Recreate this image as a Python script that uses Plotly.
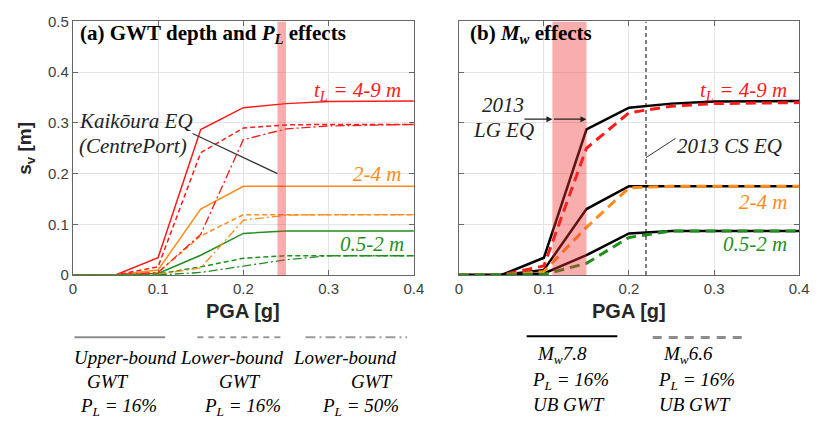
import plotly.graph_objects as go

# ---------------- data ----------------
pga = [0, 0.05, 0.1, 0.15, 0.2, 0.25, 0.3, 0.4]
x_ticks = [0, 0.1, 0.2, 0.3, 0.4]
x_tick_text = ["0", "0.1", "0.2", "0.3", "0.4"]
y_ticks = [0, 0.1, 0.2, 0.3, 0.4, 0.5]
y_tick_text = ["0", "0.1", "0.2", "0.3", "0.4", "0.5"]

# panel (a): GWT depth and PL effects
red_ub16 = [0, 0, 0.034, 0.287, 0.330, 0.338, 0.342, 0.343]
red_lb16 = [0, 0, 0.016, 0.241, 0.290, 0.296, 0.297, 0.297]
red_lb50 = [0, 0, 0.005, 0.080, 0.267, 0.288, 0.294, 0.297]
orange_ub16 = [0, 0, 0.010, 0.130, 0.175, 0.175, 0.175, 0.175]
orange_lb16 = [0, 0, 0.005, 0.077, 0.119, 0.119, 0.119, 0.119]
orange_lb50 = [0, 0, 0.001, 0.014, 0.108, 0.118, 0.119, 0.119]
green_ub16 = [0, 0, 0.003, 0.039, 0.082, 0.087, 0.087, 0.087]
green_lb16 = [0, 0, 0.002, 0.016, 0.033, 0.038, 0.038, 0.038]
green_lb50 = [0, 0, 0.000, 0.005, 0.018, 0.030, 0.038, 0.038]

# panel (b): Mw effects (Mw7.8 = UB GWT, PL 16%)
red_mw78 = red_ub16
orange_mw78 = orange_ub16
green_mw78 = green_ub16
red_mw66 = [0, 0, 0.018, 0.250, 0.320, 0.333, 0.338, 0.340]
orange_mw66 = [0, 0, 0.007, 0.094, 0.172, 0.175, 0.175, 0.175]
green_mw66 = [0, 0, 0.001, 0.023, 0.074, 0.087, 0.087, 0.087]

kaikoura_band = [0.24, 0.25]
lg_band = [0.11, 0.15]
cs_pga = 0.22

# ---------------- style ----------------
W, H = 820, 428
RED, ORANGE, GREEN = "#ff1a1a", "#ff8c1a", "#1f8f1f"
SERIF = "Liberation Serif"
SANS = "Liberation Sans"


def px(v):
    return v / W


def py(v):
    return 1 - v / H


fig = go.Figure()

dash_a = "5px,3px"
dashdot_a = "9px,3px,2px,3px"
for ys, col in [(red_ub16, RED), (orange_ub16, ORANGE), (green_ub16, GREEN)]:
    fig.add_trace(go.Scatter(x=pga, y=ys, mode="lines", xaxis="x", yaxis="y",
                             line=dict(color=col, width=1.5)))
for ys, col in [(red_lb16, RED), (orange_lb16, ORANGE), (green_lb16, GREEN)]:
    fig.add_trace(go.Scatter(x=pga, y=ys, mode="lines", xaxis="x", yaxis="y",
                             line=dict(color=col, width=1.5, dash=dash_a)))
for ys, col in [(red_lb50, RED), (orange_lb50, ORANGE), (green_lb50, GREEN)]:
    fig.add_trace(go.Scatter(x=pga, y=ys, mode="lines", xaxis="x", yaxis="y",
                             line=dict(color=col, width=1.3, dash=dashdot_a)))

for ys in [red_mw78, orange_mw78, green_mw78]:
    fig.add_trace(go.Scatter(x=pga, y=ys, mode="lines", xaxis="x2", yaxis="y2",
                             line=dict(color="black", width=2.5)))
for ys, col in [(red_mw66, RED), (orange_mw66, ORANGE), (green_mw66, GREEN)]:
    fig.add_trace(go.Scatter(x=pga, y=ys, mode="lines", xaxis="x2", yaxis="y2",
                             line=dict(color=col, width=3, dash="10px,6px")))

axis_common = dict(
    showgrid=True, gridcolor="#e4e4e4", gridwidth=1, zeroline=False,
    showline=True, linecolor="#666666", linewidth=1, mirror="ticks",
    ticks="inside", ticklen=5, tickcolor="#666666",
    tickfont=dict(family=SANS, size=15, color="#404040"),
    layer="below traces",
)
ydom = [py(277), py(13)]
fig.update_layout(
    width=W, height=H,
    margin=dict(l=0, r=0, t=0, b=0),
    paper_bgcolor="white", plot_bgcolor="white",
    showlegend=False,
    xaxis=dict(domain=[px(70), px(417)], range=[0, 0.4], tickvals=x_ticks,
               ticktext=x_tick_text, anchor="y", **axis_common),
    yaxis=dict(domain=ydom, range=[0, 0.5], tickvals=y_ticks,
               ticktext=y_tick_text, anchor="x", **axis_common),
    xaxis2=dict(domain=[px(462.7), px(809)], range=[0, 0.4], tickvals=x_ticks,
                ticktext=x_tick_text, anchor="y2", **axis_common),
    yaxis2=dict(domain=ydom, range=[0, 0.5], tickvals=y_ticks,
                showticklabels=False, anchor="x2", **axis_common),
)

shapes = [
    dict(type="rect", xref="x", yref="y", x0=kaikoura_band[0], x1=kaikoura_band[1],
         y0=0, y1=0.5, fillcolor="rgba(240,50,50,0.4)", line=dict(width=0), layer="above"),
    dict(type="rect", xref="x2", yref="y2", x0=lg_band[0], x1=lg_band[1],
         y0=0, y1=0.5, fillcolor="rgba(240,50,50,0.4)", line=dict(width=0), layer="above"),
    dict(type="line", xref="x2", yref="y2", x0=cs_pga, x1=cs_pga, y0=0, y1=0.5,
         line=dict(color="black", width=1, dash="4px,3px"), layer="above"),
    # leader lines
    dict(type="line", xref="x", yref="y", x0=0.1404, y0=0.279, x1=0.24, y1=0.2,
         line=dict(color="#333333", width=1.2), layer="above"),
    dict(type="line", xref="x2", yref="y2", x0=cs_pga, y0=0.2315, x1=0.2547, y1=0.2694,
         line=dict(color="#333333", width=1), layer="above"),
    # legend samples
    dict(type="line", xref="paper", yref="paper", x0=px(71.7), x1=px(164), y0=py(341.7), y1=py(341.7),
         line=dict(color="#8c8c8c", width=2)),
    dict(type="line", xref="paper", yref="paper", x0=px(196.7), x1=px(283), y0=py(341.7), y1=py(341.7),
         line=dict(color="#9a9a9a", width=2, dash="6px,5px")),
    dict(type="line", xref="paper", yref="paper", x0=px(306.7), x1=px(410), y0=py(341.7), y1=py(341.7),
         line=dict(color="#9a9a9a", width=2, dash="10px,4px,2px,4px")),
    dict(type="line", xref="paper", yref="paper", x0=px(531.7), x1=px(624), y0=py(340.7), y1=py(340.7),
         line=dict(color="black", width=2)),
    dict(type="line", xref="paper", yref="paper", x0=px(660), x1=px(751.7), y0=py(342), y1=py(342),
         line=dict(color="#8c8c8c", width=3, dash="9px,7px")),
]
fig.update_layout(shapes=shapes)


def txt(text, x, y, size=21, color="black", xanchor="center", family=SERIF, angle=0,
        style="italic", weight="normal"):
    fig.add_annotation(text=text, x=px(x), y=py(y), xref="paper", yref="paper",
                       xanchor=xanchor, yanchor="middle", showarrow=False,
                       textangle=angle,
                       font=dict(family=family, size=size, color=color,
                                 style=style, weight=weight))


# panel titles
txt("(a) GWT depth and <i>P<sub>L</sub></i> effects", 75, 26, xanchor="left",
    style="normal", weight="bold")
txt("(b) <i>M<sub>w</sub></i> effects", 471.7, 26, xanchor="left",
    style="normal", weight="bold")

# panel (a) labels
txt("Kaikōura EQ", 134.5, 117, color="#222222")
txt("(CentrePort)", 131, 143, color="#222222")
txt("t<sub>L</sub> = 4-9 m", 406, 85, color=RED, xanchor="right")
txt("2-4 m", 406, 172, color=ORANGE, xanchor="right")
txt("0.5-2 m", 409, 245, color=GREEN, xanchor="right")

# panel (b) labels
txt("t<sub>L</sub> = 4-9 m", 799, 85, color=RED, xanchor="right")
txt("2-4 m", 799, 201, color=ORANGE, xanchor="right")
txt("0.5-2 m", 799, 245, color=GREEN, xanchor="right")
txt("2013", 508, 100, color="#222222")
txt("LG EQ", 508, 126, color="#222222")
txt("2013 CS EQ", 683, 143, color="#222222", xanchor="left")

# LG EQ arrows
fig.add_annotation(x=lg_band[0], y=0.3074, ax=0.0754, ay=0.3074, xref="x2", yref="y2",
                   axref="x2", ayref="y2", text="", showarrow=True, arrowhead=2,
                   arrowsize=1, arrowwidth=1.2, arrowcolor="#222222")
fig.add_annotation(x=lg_band[1], y=0.3074, ax=lg_band[0], ay=0.3074, xref="x2", yref="y2",
                   axref="x2", ayref="y2", text="", showarrow=True, arrowhead=2,
                   arrowsize=1, arrowwidth=1.2, arrowcolor="#222222")

# axis titles
txt("s<sub>v</sub> [m]", 23, 145, size=19, color="#262626", family=SANS, angle=-90,
    style="normal", weight="bold")
txt("PGA [g]", 243.5, 315, size=20, color="#262626", family=SANS,
    style="normal", weight="bold")
txt("PGA [g]", 636, 315, size=20, color="#262626", family=SANS,
    style="normal", weight="bold")

# legend texts
LS = 19
txt("Upper-bound", 123, 363, size=LS)
txt("GWT", 106, 388, size=LS)
txt("P<sub>L</sub> = 16%", 116, 414, size=LS)
txt("Lower-bound", 232, 363, size=LS)
txt("GWT", 240, 388, size=LS)
txt("P<sub>L</sub> = 16%", 242.5, 414, size=LS)
txt("Lower-bound", 347, 363, size=LS)
txt("GWT", 374, 388, size=LS)
txt("P<sub>L</sub> = 50%", 362.5, 414, size=LS)

txt("M<sub>w</sub>7.8", 567.5, 360, size=LS)
txt("P<sub>L</sub> = 16%", 576, 387, size=LS)
txt("UB GWT", 575, 412, size=LS)
txt("M<sub>w</sub>6.6", 696, 360, size=LS)
txt("P<sub>L</sub> = 16%", 705, 387, size=LS)
txt("UB GWT", 702.5, 412, size=LS)

fig.write_html("out.html")
